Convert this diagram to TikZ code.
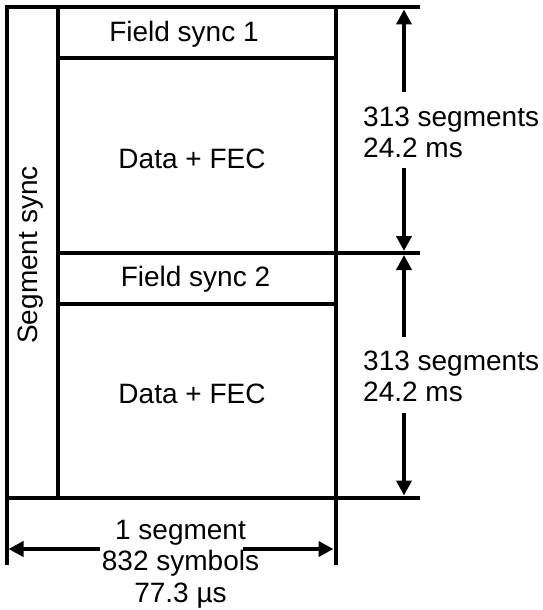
\documentclass[tikz,border=0pt]{standalone}
\usepackage{fontspec}
\setmainfont{Liberation Sans}
\usetikzlibrary{arrows.meta}
\begin{document}
\begin{tikzpicture}[x=1pt,y=-1pt,
  rule/.style={line width=4pt, draw=black},
  dimarrow/.style={line width=4pt, draw=black, -{Triangle[length=15pt,width=15pt]}},
  lbl/.style={inner sep=0pt, font=\fontsize{28}{32}\selectfont, text=black}]
\useasboundingbox (0,0) rectangle (542,610);
% frame
\coordinate (tl) at (6.5,7.5);
\coordinate (bl) at (6.5,565);
\coordinate (tr) at (420,7.5);
\coordinate (rt) at (335.5,7.5);
\coordinate (rb) at (335.5,565);
\coordinate (it) at (57.5,7.5);
\coordinate (ib) at (57.5,497.5);
\draw[rule] (bl) -- (tl) -- (tr);
\draw[rule] (rt) -- (rb);
\draw[rule] (it) -- (ib);
\draw[rule] (57.5,58.5) coordinate (f1l) -- (335.5,58.5) coordinate (f1r);
\draw[rule] (57.5,253) coordinate (ml) -- (420,253) coordinate (mr);
\draw[rule] (57.5,303.5) coordinate (f2l) -- (335.5,303.5) coordinate (f2r);
\draw[rule] (6.5,497.5) coordinate (bbl) -- (420,497.5) coordinate (bbr);
% texts in boxes
\node[lbl, anchor=base] (fs1) at (184,41.7) {Field sync 1};
\node[lbl, anchor=base] (d1) at (192,168) {Data + FEC};
\node[lbl, anchor=base] (fs2) at (195.5,286.5) {Field sync 2};
\node[lbl, anchor=base] (d2) at (192,403.3) {Data + FEC};
\node[lbl, anchor=base, rotate=90] (ss) at (37,255) {Segment sync};
% right labels
\node[lbl, anchor=base west] (r1a) at (363,126) {313 segments};
\node[lbl, anchor=base west] (r1b) at (363,157) {24.2 ms};
\node[lbl, anchor=base west] (r2a) at (363,370) {313 segments};
\node[lbl, anchor=base west] (r2b) at (363,401) {24.2 ms};
% bottom labels
\node[lbl, anchor=base] (b1) at (180.5,539) {1 segment};
\node[lbl, anchor=base] (b2) at (180.5,570.5) {832 symbols};
\node[lbl, anchor=base] (b3) at (180.5,602) {77.3 µs};
% vertical arrows
\coordinate (a1t) at (404,9.5);
\coordinate (a1g) at (404,92);
\coordinate (a1h) at (404,168);
\coordinate (a1b) at (404,251);
\coordinate (a2t) at (404,255);
\coordinate (a2g) at (404,337);
\coordinate (a2h) at (404,413);
\coordinate (a2b) at (404,495.5);
\draw[dimarrow] (a1g) -- (a1t);
\draw[dimarrow] (a1h) -- (a1b);
\draw[dimarrow] (a2g) -- (a2t);
\draw[dimarrow] (a2h) -- (a2b);
% horizontal arrow
\coordinate (hl) at (8.5,549);
\coordinate (hg) at (100,549);
\coordinate (hh) at (243,549);
\coordinate (hr) at (333.5,549);
\draw[dimarrow] (hg) -- (hl);
\draw[dimarrow] (hh) -- (hr);
\end{tikzpicture}
\end{document}
